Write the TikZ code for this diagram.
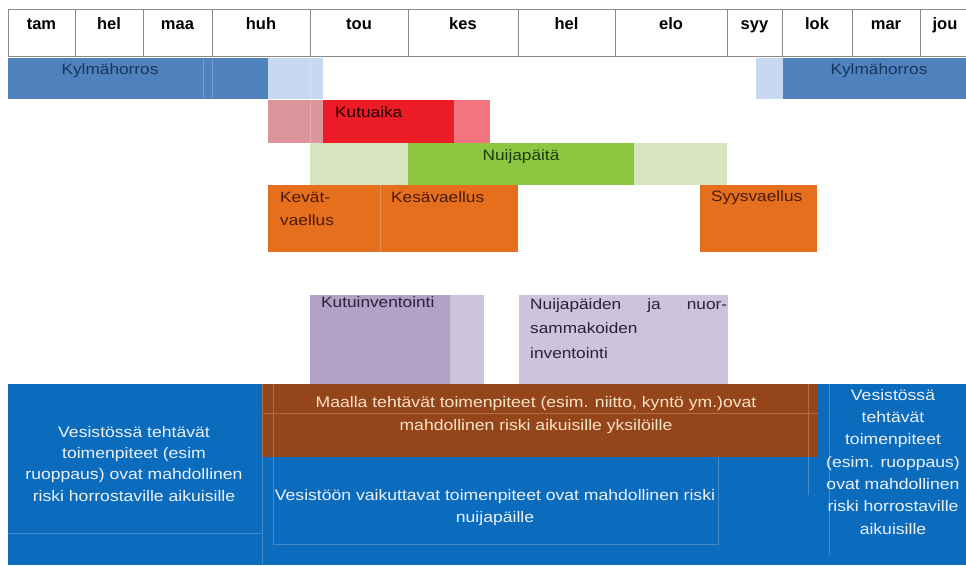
\documentclass[tikz,border=0pt]{standalone}
\usepackage{fontspec}
\setmainfont{Liberation Sans}
\newfontfamily\lab{Liberation Sans}[FakeStretch=1.15]
\definecolor{hdrgray}{HTML}{8A8A8A}
\definecolor{kyblue}{HTML}{4F81BD}
\definecolor{kylight}{HTML}{C6D9F0}
\definecolor{kytext}{HTML}{17365D}
\definecolor{kutured}{HTML}{EC1C26}
\definecolor{kutupinkA}{HTML}{DB959B}
\definecolor{kutupinkB}{HTML}{F2747D}
\definecolor{nuigreen}{HTML}{8DC641}
\definecolor{nuilight}{HTML}{D7E4BD}
\definecolor{nuitext}{HTML}{1D3B10}
\definecolor{vaelorange}{HTML}{E66F1E}
\definecolor{vaeltext}{HTML}{4A1A05}
\definecolor{purdark}{HTML}{B3A2C8}
\definecolor{purlight}{HTML}{CDC3DD}
\definecolor{purtext}{HTML}{2A2238}
\definecolor{botblue}{HTML}{0B6CBE}
\definecolor{brownbox}{HTML}{95451A}
\definecolor{browntext}{HTML}{F7E3C8}
\definecolor{btext}{HTML}{EEF0F8}
\begin{document}
\begin{tikzpicture}[x=1pt,y=-1pt,
  cell/.style={draw=hdrgray, line width=0.9pt, anchor=north west, inner sep=0pt, outer sep=0pt},
  bar/.style={anchor=north west, inner sep=0pt, outer sep=0pt, draw=none},
  mon/.style={anchor=base, inner sep=0pt, font=\bfseries\fontsize{16.5}{18}\selectfont},
  lbl/.style={anchor=base west, inner sep=0pt, align=left, font=\lab\fontsize{15}{23}\selectfont},
  btxt/.style={anchor=base, inner sep=0pt, align=center, text=btext},
  faint/.style={draw=white, opacity=0.22, line width=0.7pt}]
\useasboundingbox (0,0) rectangle (966,565);
\fill[white] (0,0) rectangle (966,565);
% header
\foreach \a/\b/\nm in {8/75/tam,75/143/hel,143/212/maa,212/310/huh,310/408/tou,408/518/kes,518/615/hel,615/727/elo,727/782/syy,782/852/lok,852/920/mar,920/970/jou}{
  \node[cell, minimum width={(\b-\a)*1pt}, minimum height=47pt] (c\a) at (\a,9) {};
  \node[mon] (t\a) at ({(\a+\b)/2},29) {\nm};
}
% Kylmähorros
\node[bar, fill=kyblue, minimum width=260pt, minimum height=41pt] (ky1) at (8,58) {};
\node[bar, fill=kylight, minimum width=55pt, minimum height=41pt] (ky1b) at (268,58) {};
\node[bar, fill=kylight, minimum width=27pt, minimum height=41pt] (ky2a) at (756,58) {};
\node[bar, fill=kyblue, minimum width=184pt, minimum height=41pt] (ky2) at (783,58) {};
\draw[faint] (203,58) -- (203,99) (212,58) -- (212,99) (310,58) -- (310,99);
\node[lbl, anchor=base, text=kytext] (kyl1) at (110,74) {Kylmähorros};
\node[lbl, anchor=base, text=kytext] (kyl2) at (879,74) {Kylmähorros};
% Kutuaika
\node[bar, fill=kutupinkA, minimum width=55pt, minimum height=43pt] (ku1) at (268,100) {};
\node[bar, fill=kutured, minimum width=131pt, minimum height=43pt] (ku2) at (323,100) {};
\node[bar, fill=kutupinkB, minimum width=36pt, minimum height=43pt] (ku3) at (454,100) {};
\draw[faint] (310,100) -- (310,143);
\node[lbl, text=black!85!red] (kul) at (335,117) {Kutuaika};
% Nuijapäitä
\node[bar, fill=nuilight, minimum width=98pt, minimum height=42pt] (nu1) at (310,143) {};
\node[bar, fill=nuigreen, minimum width=226pt, minimum height=42pt] (nu2) at (408,143) {};
\node[bar, fill=nuilight, minimum width=93pt, minimum height=42pt] (nu3) at (634,143) {};
\node[lbl, anchor=base, text=nuitext] (nul) at (521,160) {Nuijapäitä};
% vaellus
\node[bar, fill=vaelorange, minimum width=112pt, minimum height=67pt] (va1) at (268,185) {};
\node[bar, fill=vaelorange, minimum width=138pt, minimum height=67pt] (va2) at (380,185) {};
\node[bar, fill=vaelorange, minimum width=117pt, minimum height=67pt] (va3) at (700,185) {};
\draw[faint] (380,185) -- (380,252);
\node[lbl, text=vaeltext] (val1) at (280,225) {Kevät-\\vaellus};
\node[lbl, text=vaeltext] (val2) at (391,202) {Kesävaellus};
\node[lbl, text=vaeltext] (val3) at (711,201) {Syysvaellus};
% inventointi
\node[bar, fill=purdark, minimum width=140pt, minimum height=89pt] (in1) at (310,295) {};
\node[bar, fill=purlight, minimum width=34pt, minimum height=89pt] (in1b) at (450,295) {};
\node[bar, fill=purlight, minimum width=209pt, minimum height=89pt] (in2) at (519,295) {};
\node[lbl, text=purtext] (inl1) at (321,307) {Kutuinventointi};
\node[lbl, text=purtext, font=\lab\fontsize{15}{24.5}\selectfont] (inl2) at (530,358) {\makebox[197pt][s]{Nuijapäiden\hfill ja\hfill nuor-}\\sammakoiden\\inventointi};
% bottom risks
\node[bar, fill=botblue, minimum width=958pt, minimum height=181pt] (bot) at (8,384) {};
\node[bar, fill=brownbox, minimum width=556pt, minimum height=73pt] (brn) at (262,384) {};
\draw[faint] (262,384) -- (262,565) (273,384) -- (273,545) (262,413) -- (818,413)
  (8,533) -- (262,533) (273,544) -- (718,544) (718,457) -- (718,545)
  (808,384) -- (808,495) (829,384) -- (829,555);
\node[btxt, text=browntext, font=\lab\fontsize{15.3}{23}\selectfont] (brl) at (536,430)
  {Maalla tehtävät toimenpiteet (esim. niitto, kyntö ym.)ovat\\mahdollinen riski aikuisille yksilöille};
\node[btxt, font=\lab\fontsize{15.3}{21.3}\selectfont] (lft) at (134,501)
  {Vesistössä tehtävät\\toimenpiteet (esim\\ruoppaus) ovat mahdollinen\\riski horrostaville aikuisille};
\node[btxt, font=\lab\fontsize{15.3}{22}\selectfont] (mid) at (495,522)
  {Vesistöön vaikuttavat toimenpiteet ovat mahdollinen riski\\nuijapäille};
\node[btxt, font=\lab\fontsize{15.3}{22.3}\selectfont] (rgt) at (893,534)
  {Vesistössä\\tehtävät\\toimenpiteet\\(esim. ruoppaus)\\ovat mahdollinen\\riski horrostaville\\aikuisille};
\end{tikzpicture}
\end{document}
